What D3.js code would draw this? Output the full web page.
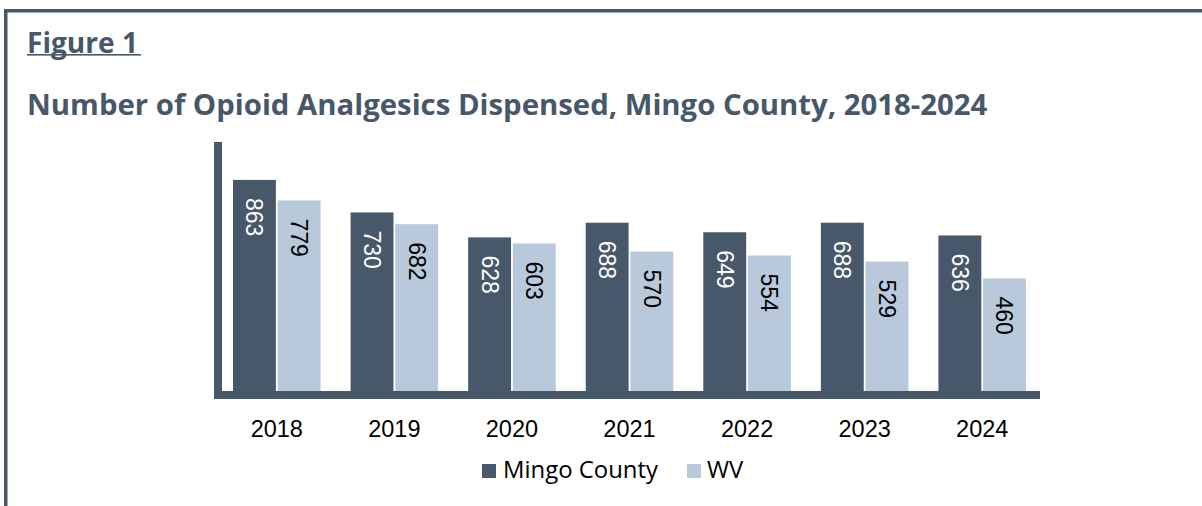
<!DOCTYPE html>
<html>
<head>
<meta charset="utf-8">
<script src="https://cdn.jsdelivr.net/npm/d3@7"></script>
<style>
  body { margin: 0; background: #fff; }
  svg { display: block; }
</style>
</head>
<body>
<main></main>
<script>
// Chart data
const years = ['2018', '2019', '2020', '2021', '2022', '2023', '2024'];
const mingo = [863, 730, 628, 688, 649, 688, 636];
const wv = [779, 682, 603, 570, 554, 529, 460];
const seriesNames = ['Mingo County', 'WV'];

const width = 1202, height = 506;
const dark = '#465869', light = '#b7c9db';
const sans = '"Open Sans", sans-serif';

const svg = d3.select('main').append('svg')
    .attr('width', width)
    .attr('height', height);

// size a text so it spans the given width
function fitText(sel, target) {
    const base = 20;
    sel.attr('font-size', base);
    const w = sel.node().getComputedTextLength();
    sel.attr('font-size', base * target / w);
    return sel;
}

// Frame (top and left border)
svg.append('rect')
    .attr('x', 4).attr('y', 9).attr('width', width).attr('height', 3.5)
    .attr('fill', dark);
svg.append('rect')
    .attr('x', 4).attr('y', 9).attr('width', 3.5).attr('height', height)
    .attr('fill', dark);

// Titles
const fig = svg.append('text')
    .attr('x', 27).attr('y', 53)
    .attr('font-family', sans)
    .attr('font-weight', 700)
    .attr('fill', dark)
    .text('Figure 1');
fitText(fig, 111);
svg.append('rect')
    .attr('x', 27).attr('y', 54).attr('width', 114).attr('height', 1.6)
    .attr('fill', dark);

const title = svg.append('text')
    .attr('x', 27).attr('y', 115)
    .attr('font-family', sans)
    .attr('font-weight', 700)
    .attr('fill', dark)
    .text('Number of Opioid Analgesics Dispensed, Mingo County, 2018-2024');
fitText(title, 961);

// Scales
const x0 = d3.scaleBand().domain(years).range([218, 1041]).paddingInner(0).paddingOuter(0);
const x1 = d3.scaleBand().domain(seriesNames).range([15, x0.bandwidth() - 15]).paddingInner(0.04);
const y = d3.scaleLinear().domain([0, 1018]).range([391, 142]);
const color = d3.scaleOrdinal().domain(seriesNames).range([dark, light]);

const rows = years.map((yr, i) => ({ year: yr, vals: [
    { name: seriesNames[0], v: mingo[i] },
    { name: seriesNames[1], v: wv[i] }
]}));

const groups = svg.selectAll('g.grp')
    .data(rows)
    .enter().append('g')
    .attr('class', 'grp')
    .attr('transform', d => `translate(${x0(d.year)},0)`);

groups.selectAll('rect')
    .data(d => d.vals)
    .enter().append('rect')
    .attr('x', d => x1(d.name))
    .attr('width', x1.bandwidth())
    .attr('y', d => y(d.v))
    .attr('height', d => y(0) - y(d.v))
    .attr('fill', d => color(d.name));

// Rotated value labels
groups.selectAll('text.val')
    .data(d => d.vals)
    .enter().append('text')
    .attr('class', 'val')
    .attr('transform', d => `translate(${x1(d.name) + x1.bandwidth() / 2},${y(d.v) + 18}) rotate(90)`)
    .attr('dy', '0.35em')
    .attr('font-family', 'Liberation Sans, Arial, sans-serif')
    .attr('font-size', 23)
    .attr('fill', d => d.name === seriesNames[0] ? '#fff' : '#000')
    .text(d => d.v);

// Axes lines (thick)
svg.append('rect')
    .attr('x', 214).attr('y', 142).attr('width', 8).attr('height', 257)
    .attr('fill', dark);
svg.append('rect')
    .attr('x', 214).attr('y', 391).attr('width', 1040 - 214).attr('height', 8)
    .attr('fill', dark);

// X axis labels
const xAxis = svg.append('g')
    .attr('transform', 'translate(0,399)')
    .call(d3.axisBottom(x0).tickSize(0).tickPadding(0));
xAxis.select('.domain').remove();
xAxis.selectAll('text')
    .attr('y', 38)
    .attr('dy', null)
    .attr('font-family', 'Liberation Sans, Arial, sans-serif')
    .attr('font-size', 23.5)
    .attr('fill', '#000');

// Legend
const legendX = [482, 687];
const leg = svg.selectAll('g.leg')
    .data(seriesNames)
    .enter().append('g')
    .attr('class', 'leg')
    .attr('transform', (d, i) => `translate(${legendX[i]},464)`);
leg.append('rect')
    .attr('width', 14).attr('height', 14)
    .attr('fill', d => color(d));
const legText = leg.append('text')
    .attr('x', (d, i) => i === 0 ? 21 : 20)
    .attr('y', 14)
    .attr('font-family', sans)
    .attr('fill', '#000')
    .text(d => d);
// both legend labels share one size, taken from the first label
const first = d3.select(legText.nodes()[0]);
fitText(first, 155);
legText.attr('font-size', first.attr('font-size'));
</script>
</body>
</html>
